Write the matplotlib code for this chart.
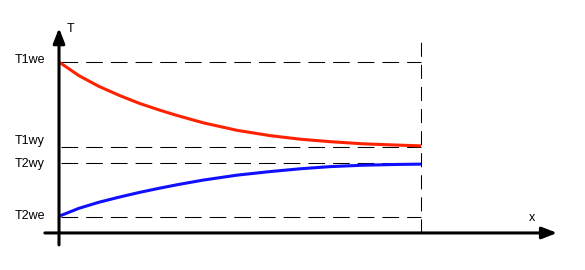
import numpy as np
import matplotlib
matplotlib.use("Agg")
import matplotlib.pyplot as plt

plt.rcParams['font.family'] = ['Liberation Sans', 'DejaVu Sans']

# temperature levels (normalised: T2we = 0, T1we = 1)
level_names = ['T1we', 'T1wy', 'T2wy', 'T2we']
level_values = [1.0, 0.45, 0.346, 0.0]
label_offsets = [-1.3, 3.0, -3.4, -2.3]   # label baseline shift, pixels

# curves, x normalised to the exchanger length
x_pts = [0.0, 0.055, 0.110, 0.166, 0.221, 0.276, 0.326, 0.398, 0.492,
         0.583, 0.666, 0.749, 0.840, 0.934, 1.0]
t1_pts = [1.0, 0.912, 0.843, 0.785, 0.734, 0.691, 0.655, 0.608, 0.559,
          0.525, 0.502, 0.486, 0.472, 0.464, 0.459]
t2_pts = [0.005, 0.056, 0.095, 0.128, 0.158, 0.185, 0.208, 0.238, 0.270,
          0.293, 0.311, 0.325, 0.334, 0.339, 0.341]

x_end = 1.0
x_axis_y = -0.103
x_arrow_end = 1.376
y_arrow_end = 1.219

fig = plt.figure(figsize=(5.85, 2.70), dpi=100)
ax = fig.add_axes([0, 0, 1, 1])
ax.set_xlim(-0.163, 1.453)
ax.set_ylim(-0.342, 1.4)
ax.axis('off')

# dashed guide lines
for v in level_values:
    ax.plot([0.005, x_end], [v, v], color='black', lw=0.75, dashes=(16, 7.7))
ax.plot([x_end, x_end], [x_axis_y, 1.129], color='black', lw=0.75, dashes=(13.5, 7.7))

# curves
ax.plot(x_pts, t1_pts, color='#ff2200', lw=2.2, solid_capstyle='butt', zorder=3)
ax.plot(x_pts, t2_pts, color='#1010ff', lw=2.2, solid_capstyle='butt', zorder=3)

# axes with arrows
arrow = dict(arrowstyle='-|>,head_length=0.9,head_width=0.35', lw=2.2,
             color='black', shrinkA=0, shrinkB=0)
ax.annotate('', xy=(0, y_arrow_end), xytext=(0, -0.18), arrowprops=arrow)
ax.annotate('', xy=(x_arrow_end, x_axis_y), xytext=(-0.039, x_axis_y), arrowprops=arrow)

# labels
for name, v, off in zip(level_names, level_values, label_offsets):
    ax.annotate(name, xy=(-0.039, v), xytext=(0, off), textcoords='offset pixels',
                ha='right', va='baseline', fontsize=9)
ax.text(0.022, 1.192, 'T', ha='left', va='baseline', fontsize=9)
ax.text(1.297, -0.024, 'x', ha='left', va='baseline', fontsize=9)

fig.savefig('out.png', dpi=100)
